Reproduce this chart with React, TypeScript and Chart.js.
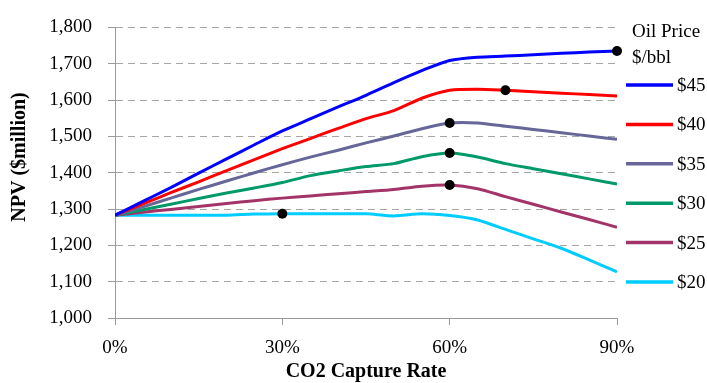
import React, { useEffect, useRef } from "react";
import { Chart, registerables } from "chart.js";

Chart.register(...registerables);

const captureRates = [0, 5, 10, 15, 20, 25, 30, 35, 40, 45, 50, 55, 60, 65, 70, 75, 80, 85, 90];

const npv45 = [1283, 1321, 1359, 1399, 1438, 1477, 1515, 1548, 1581, 1613, 1648, 1681, 1709, 1718, 1721, 1725, 1729, 1732, 1735];
const npv40 = [1283, 1314, 1345, 1375, 1406, 1436, 1466, 1494, 1522, 1549, 1571, 1605, 1627, 1630, 1627, 1623, 1619, 1615, 1611];
const npv35 = [1283, 1306, 1330, 1354, 1377, 1400, 1422, 1443, 1462, 1482, 1501, 1521, 1537, 1537, 1528, 1519, 1510, 1501, 1492];
const npv30 = [1283, 1298, 1313, 1329, 1344, 1358, 1373, 1392, 1405, 1417, 1425, 1444, 1454, 1443, 1425, 1411, 1397, 1383, 1369];
const npv25 = [1283, 1291, 1299, 1307, 1315, 1323, 1330, 1336, 1342, 1348, 1354, 1363, 1366, 1356, 1334, 1313, 1292, 1271, 1250];
const npv20 = [1283, 1283, 1283, 1283, 1283, 1286, 1287, 1287, 1287, 1287, 1281, 1287, 1282, 1270, 1244, 1218, 1192, 1160, 1127];

const seriesLabels = ["$45", "$40", "$35", "$30", "$25", "$20"];
const seriesColors = ["#0000ff", "#ff0000", "#666699", "#00996a", "#a33469", "#00ccff"];

const optimumRates = [90, 70, 60, 60, 60, 30];
const optimumNPV = [1735, 1627, 1537, 1454, 1366, 1287];

const yTicks = [1000, 1100, 1200, 1300, 1400, 1500, 1600, 1700, 1800];
const xTicks = [0, 30, 60, 90];

const legendTitle = ["Oil Price", "$/bbl"];
const xTitle = "CO2 Capture Rate";
const yTitle = "NPV ($million)";

const FONT = '"Liberation Serif", "Times New Roman", serif';

const customPlugin = {
  id: "customDecor",
  afterDraw(chart: any) {
    const ctx = chart.ctx;
    const area = chart.chartArea;
    ctx.save();
    ctx.fillStyle = "#000";
    // axis titles
    ctx.font = `bold 20px ${FONT}`;
    ctx.textAlign = "center";
    ctx.textBaseline = "middle";
    ctx.fillText(xTitle, (area.left + area.right) / 2, 372);
    ctx.save();
    ctx.translate(20, 157);
    ctx.rotate(-Math.PI / 2);
    ctx.fillText(yTitle, 0, 0);
    ctx.restore();
    // legend
    ctx.font = `19px ${FONT}`;
    ctx.textAlign = "left";
    ctx.fillText(legendTitle[0], 632, 32);
    ctx.fillText(legendTitle[1], 632, 58);
    const ds = chart.data.datasets.filter((d: any) => !d.isOptimum);
    ds.forEach((d: any, i: number) => {
      const y = 85 + i * 39.4;
      ctx.strokeStyle = d.borderColor;
      ctx.lineWidth = 3.5;
      ctx.beginPath();
      ctx.moveTo(626, y);
      ctx.lineTo(673, y);
      ctx.stroke();
      ctx.fillText(d.label, 677, y + 1);
    });
    ctx.restore();
  },
};

export default function App() {
  const ref = useRef<HTMLCanvasElement>(null);
  useEffect(() => {
    document.body.style.margin = "0";
    const series = [npv45, npv40, npv35, npv30, npv25, npv20];
    const datasets: any[] = series.map((vals, i) => ({
      type: "line",
      label: seriesLabels[i],
      data: captureRates.map((x, j) => ({ x, y: vals[j] })),
      borderColor: seriesColors[i],
      backgroundColor: seriesColors[i],
      borderWidth: 3,
      pointRadius: 0,
      tension: 0.25,
      fill: false,
      order: 1,
    }));
    datasets.push({
      type: "scatter",
      label: "optimum",
      isOptimum: true,
      data: optimumRates.map((x, j) => ({ x, y: optimumNPV[j] })),
      backgroundColor: "#000",
      borderColor: "#000",
      borderWidth: 0,
      pointRadius: 5,
      showLine: false,
      clip: false,
      order: 0,
    });
    const chart = new Chart(ref.current!, {
      type: "line",
      data: { datasets },
      options: {
        animation: false,
        responsive: true,
        maintainAspectRatio: false,
        layout: { padding: { left: 0, top: 17, right: 90, bottom: 0 } },
        plugins: { legend: { display: false }, tooltip: { enabled: false } },
        scales: {
          x: {
            type: "linear",
            min: 0,
            max: 90,
            afterBuildTicks: (s: any) => {
              s.ticks = xTicks.map((v) => ({ value: v }));
            },
            afterFit: (s: any) => {
              s.height = 65;
            },
            ticks: {
              color: "#000",
              font: { family: FONT, size: 19 },
              padding: 12,
              callback: (v: any) => v + "%",
              maxRotation: 0,
            },
            grid: { drawOnChartArea: false, drawTicks: true, tickLength: 7, tickColor: "#999" },
            border: { color: "#999", width: 1 },
          },
          y: {
            type: "linear",
            min: 1000,
            max: 1800,
            afterBuildTicks: (s: any) => {
              s.ticks = yTicks.map((v) => ({ value: v }));
            },
            afterFit: (s: any) => {
              s.width = 115;
            },
            ticks: {
              color: "#000",
              font: { family: FONT, size: 19 },
              padding: 16,
              callback: (v: any) => Number(v).toLocaleString("en-US"),
            },
            grid: { color: "#a6a6a6", tickColor: "#999", tickLength: 7, tickBorderDash: [] },
            border: { color: "#999", width: 1, dash: [7, 5] },
          },
        },
      },
      plugins: [customPlugin],
    } as any);
    return () => chart.destroy();
  }, []);
  return (
    <div style={{ position: "fixed", left: 0, top: 0, width: 707, height: 383, background: "#fff" }}>
      <canvas ref={ref} />
    </div>
  );
}
